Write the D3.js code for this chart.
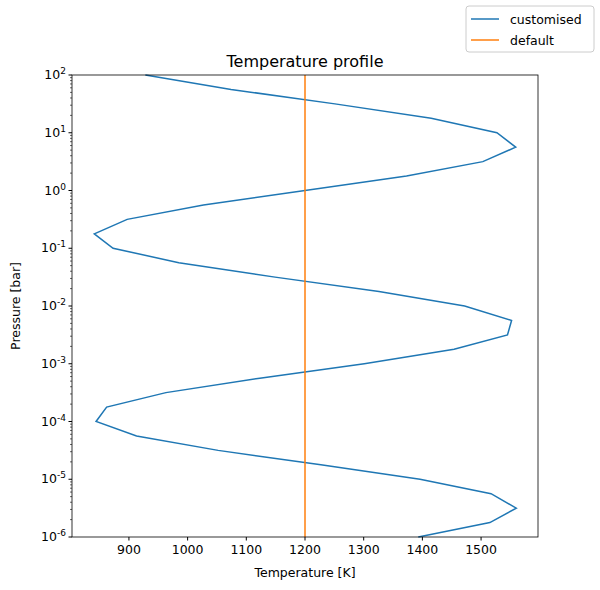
<!DOCTYPE html>
<html><head><meta charset="utf-8">
<script src="https://cdn.jsdelivr.net/npm/d3@7"></script>
<style>body{margin:0;background:#fff}text{font-family:"DejaVu Sans",sans-serif}</style>
</head><body><svg id="c" width="600" height="590"></svg>
<script>
const logPressure = [-6,-5.75,-5.5,-5.25,-5,-4.75,-4.5,-4.25,-4,-3.75,-3.5,-3.25,-3,-2.75,-2.5,-2.25,-2,-1.75,-1.5,-1.25,-1,-0.75,-0.5,-0.25,0,0.25,0.5,0.75,1,1.25,1.5,1.75,2];
const tempCustom = [1393,1515,1560,1517,1396,1227,1052,913,844,862,963,1123,1301,1454,1545,1552,1472,1326,1149,985,873,841,897,1027,1200,1373,1503,1559,1527,1415,1251,1074,928];
const tempDefault = 1200;
const xTicks = [900,1000,1100,1200,1300,1400,1500];
const yExps = [-6,-5,-4,-3,-2,-1,0,1,2];
const seriesNames = ["customised","default"];
const colors = ["#1f77b4","#ff7f0e"];

const svg = d3.select("#c");
const L=72,R=538,T=75,B=537;
const x = d3.scaleLinear().domain([803,1597]).range([L,R]);
const y = d3.scaleLog().domain([1e-6,1e2]).range([B,T]);
const sup = {"-":"⁻","0":"⁰","1":"¹","2":"²","3":"³","4":"⁴","5":"⁵","6":"⁶","7":"⁷","8":"⁸","9":"⁹"};
const g = svg.append("g");
// x axis
xTicks.forEach(t=>{
  g.append("line").attr("x1",x(t)).attr("x2",x(t)).attr("y1",B).attr("y2",B+3.5).attr("stroke","#000");
  g.append("text").attr("x",x(t)).attr("y",B+17).attr("text-anchor","middle").attr("font-size",12.5).text(t);
});
// y axis
yExps.forEach(e=>{
  const yy=y(Math.pow(10,e));
  g.append("line").attr("x1",L-3.5).attr("x2",L).attr("y1",yy).attr("y2",yy).attr("stroke","#000");
  const tx=g.append("text").attr("x",L-6).attr("y",yy+4).attr("text-anchor","end").attr("font-size",12.5);
  tx.append("tspan").text("10");
  tx.append("tspan").attr("font-size",9).attr("dy",-5).text(String(e).split("").map(c=>sup[c]).join("").replace(/./g,c=>c)).each(function(){d3.select(this).text(String(e))});
  if(e<2) for(let m=2;m<10;m++){const ym=y(m*Math.pow(10,e));
    g.append("line").attr("x1",L-2).attr("x2",L).attr("y1",ym).attr("y2",ym).attr("stroke","#000").attr("stroke-width",0.6);}
});
const line = d3.line().x(d=>x(d[0])).y(d=>y(Math.pow(10,d[1])));
svg.append("path").datum(logPressure.map((p,i)=>[tempCustom[i],p])).attr("d",line)
  .attr("fill","none").attr("stroke",colors[0]).attr("stroke-width",1.5);
svg.append("path").datum([[tempDefault,-6],[tempDefault,2]]).attr("d",line)
  .attr("fill","none").attr("stroke",colors[1]).attr("stroke-width",1.5);
svg.append("rect").attr("x",L).attr("y",T).attr("width",R-L).attr("height",B-T).attr("fill","none").attr("stroke","#000").attr("stroke-width",0.8);
svg.append("text").attr("x",(L+R)/2).attr("y",67).attr("text-anchor","middle").attr("font-size",16).text("Temperature profile");
svg.append("text").attr("x",(L+R)/2).attr("y",577).attr("text-anchor","middle").attr("font-size",12.5).text("Temperature [K]");
svg.append("text").attr("transform",`translate(20,${(T+B)/2}) rotate(-90)`).attr("text-anchor","middle").attr("font-size",12.5).text("Pressure [bar]");
// legend
const lg=svg.append("g");
lg.append("rect").attr("x",466).attr("y",6).attr("width",128).attr("height",46).attr("rx",3).attr("fill","#fff").attr("stroke","#ccc");
seriesNames.forEach((n,i)=>{
  const yy=19+i*21;
  lg.append("line").attr("x1",471).attr("x2",499).attr("y1",yy).attr("y2",yy).attr("stroke",colors[i]).attr("stroke-width",1.5);
  lg.append("text").attr("x",510).attr("y",yy+4.5).attr("font-size",12.5).text(n);
});
</script></body></html>
